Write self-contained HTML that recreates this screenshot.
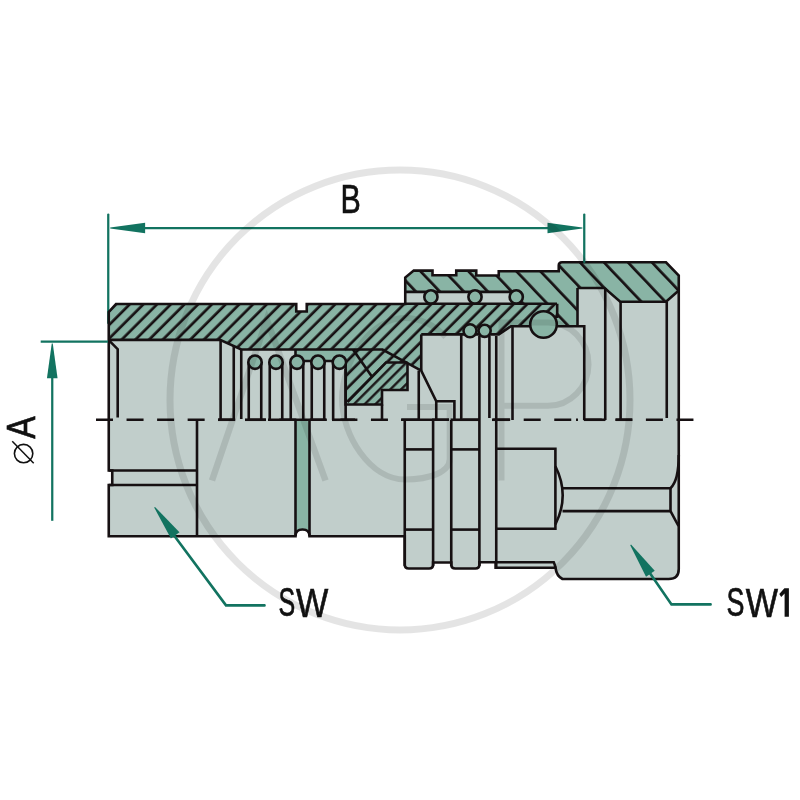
<!DOCTYPE html>
<html><head><meta charset="utf-8"><style>
html,body{margin:0;padding:0;background:#fff;width:800px;height:800px;overflow:hidden}
svg{display:block}
text{font-family:"Liberation Sans", sans-serif}
</style></head><body>
<svg width="800" height="800" viewBox="0 0 800 800">
<defs>
 <pattern id="hb" patternUnits="userSpaceOnUse" width="9.69" height="20" patternTransform="rotate(45)">
   <rect width="9.69" height="20" fill="#89b4a5"/>
   <rect x="5.15" y="0" width="2.7" height="20" fill="#161012"/>
 </pattern>
 <pattern id="hs" patternUnits="userSpaceOnUse" width="17.4" height="20" patternTransform="rotate(-43.5)">
   <rect width="17.4" height="20" fill="#89b4a5"/>
   <rect x="12.55" y="0" width="2.7" height="20" fill="#161012"/>
 </pattern>
 <pattern id="hseal" patternUnits="userSpaceOnUse" width="7.6" height="20" patternTransform="rotate(45)">
   <rect width="7.6" height="20" fill="#89b4a5"/>
   <rect x="3" y="0" width="2.3" height="20" fill="#161012"/>
 </pattern>
</defs>

<rect width="800" height="800" fill="#fff"/>
<line x1="108.25" y1="214.5" x2="108.25" y2="323" stroke="#127360" stroke-width="2.25" stroke-linecap="round"/>
<path d="M116,304 L296.25,304 L296.25,311.5 L306.75,311.5 L306.75,304 L405.25,304 L405.25,277.5 L413.75,270.6 L432.5,270.6 L432.5,275.25 L456.25,275.25 L456.25,270.6 L476.25,270.6 L476.25,275.5 L498.75,275.5 L498.75,271.25 L558.75,271.25 L558.75,265.5 Q558.75,262.3 562,262.3 L666,262.3 L678.75,275.5 L678.75,569 Q678.75,579 668.75,579 L562.5,579 Q556.5,576 555.5,567.75 L495.6,567.75 L495.6,562.3 L479.4,562.3 L479.4,564.5 Q479.4,568.5 475.4,568.5 L455.25,568.5 Q451.25,568.5 451.25,564.5 L451.25,562.5 L433.1,562.5 L433.1,564.5 Q433.1,568.5 429.1,568.5 L408.75,568.5 Q404.75,568.5 404.75,564.5 L404.75,536.25 L309.5,536.25 Q309.5,529.5 302.5,529.5 Q295.5,529.5 295.5,536.25 L108.75,536.25 L108.75,485 L112.25,485 L112.25,470.5 L108.75,470.5 L108.75,312 Z" fill="#c1cecb"/>
<path d="M405.25,304 L405.25,277.5 L413.75,270.6 L432.5,270.6 L432.5,275.25 L456.25,275.25 L456.25,270.6 L476.25,270.6 L476.25,275.5 L498.75,275.5 L498.75,271.25 L558.75,271.25 L558.75,265.5 Q558.75,262.3 562,262.3 L666,262.3 L678.75,275.5 L678.75,290.5 L666,301.75 L620.25,301.75 L604.5,288 L577.5,288 L577.5,326.25 L557,326.25 L557,304 Z" fill="url(#hs)"/>
<path d="M116,304 L296.25,304 L296.25,311.5 L306.75,311.5 L306.75,304 L557,304 L557,326.25 L511,326.25 L498.75,334.4 L421.25,334.4 L421.25,370.6 L382.5,349.5 L241.25,349.5 L220,339.9 L108.75,339.9 L108.75,312 Z" fill="url(#hb)"/>
<rect x="405.25" y="291.9" width="111" height="12" fill="#c1cecb"/>
<path d="M295.5,349.5 L347.5,349.5 L347.5,362 L295.5,362 Z" fill="#89b4a5"/>
<path d="M345.6,349.5 L382.5,349.5 L407.5,362.8 L386,362.5 L347.5,402 L345.6,402 Z" fill="url(#hb)"/>
<path d="M386,362.5 L407.5,362.5 L407.5,390 L382,390 L382,404.5 L345.6,404.5 L345.6,402 L347.5,402 Z" fill="url(#hseal)"/>
<path d="M295.5,420 L309.5,420 L309.5,536.25 Q309.5,529.5 302.5,529.5 Q295.5,529.5 295.5,536.25 Z" fill="#89b4a5"/>
<g fill="none" stroke="#161012" stroke-width="2.6" stroke-linejoin="miter" stroke-linecap="butt"><path d="M116,304 L296.25,304 L296.25,311.5 L306.75,311.5 L306.75,304 L405.25,304 L405.25,277.5 L413.75,270.6 L432.5,270.6 L432.5,275.25 L456.25,275.25 L456.25,270.6 L476.25,270.6 L476.25,275.5 L498.75,275.5 L498.75,271.25 L558.75,271.25 L558.75,265.5 Q558.75,262.3 562,262.3 L666,262.3 L678.75,275.5 L678.75,569 Q678.75,579 668.75,579 L562.5,579 Q556.5,576 555.5,567.75 L495.6,567.75 L495.6,562.3 L479.4,562.3 L479.4,564.5 Q479.4,568.5 475.4,568.5 L455.25,568.5 Q451.25,568.5 451.25,564.5 L451.25,562.5 L433.1,562.5 L433.1,564.5 Q433.1,568.5 429.1,568.5 L408.75,568.5 Q404.75,568.5 404.75,564.5 L404.75,536.25 L309.5,536.25 Q309.5,529.5 302.5,529.5 Q295.5,529.5 295.5,536.25 L108.75,536.25 L108.75,485 L112.25,485 L112.25,470.5 L108.75,470.5 L108.75,312 Z"/><path d="M108.75,339.9 L220,339.9 L241.25,349.5 L382.5,349.5 L421.25,370.6 L436.25,401.25 L454.4,401.25 L454.4,420"/><path d="M108.75,340.2 L117.7,349.2 L117.7,417.5"/><line x1="220.6" y1="339.9" x2="220.6" y2="420"/><line x1="233.75" y1="345.9" x2="233.75" y2="420"/><line x1="241.25" y1="349.5" x2="241.25" y2="419"/><path d="M248.75,420 L248.75,362 M261.25,362 L261.25,420"/><path d="M269.75,420 L269.75,362 M282.25,362 L282.25,420"/><path d="M290.75,420 L290.75,362 M303.25,362 L303.25,420"/><path d="M311.75,420 L311.75,362 M324.25,362 L324.25,420"/><path d="M333.15,420 L333.15,362 M345.65,362 L345.65,420"/><line x1="295.5" y1="349.5" x2="295.5" y2="355"/><path d="M297,361 L339.4,361"/><circle cx="255" cy="362.2" r="6.7" fill="#89b4a5"/><circle cx="276" cy="362.2" r="6.7" fill="#89b4a5"/><circle cx="297" cy="362.2" r="6.7" fill="#89b4a5"/><circle cx="318" cy="362.2" r="6.7" fill="#89b4a5"/><circle cx="339.4" cy="362.2" r="6.7" fill="#89b4a5"/><path d="M345.65,369 L345.65,404.5 L382,404.5 L382,390 L407.5,390 L407.5,362.8"/><path d="M347.5,402 L386,362.5 L407.5,362.5"/><line x1="382" y1="404.5" x2="382" y2="420"/><path d="M353,349.5 L372,376.7"/><line x1="421.25" y1="334.4" x2="421.25" y2="370.6"/><line x1="418.75" y1="370.6" x2="418.75" y2="420"/><line x1="436.25" y1="401.25" x2="436.25" y2="420"/><path d="M421.25,334.4 L498.75,334.4 L511,326.25 L584.25,326.25 L584.25,420"/><line x1="461.25" y1="334.4" x2="461.25" y2="420"/><line x1="479.4" y1="336" x2="479.4" y2="420"/><line x1="489.4" y1="336" x2="489.4" y2="418"/><line x1="496.25" y1="336" x2="496.25" y2="568"/><line x1="512.5" y1="326.25" x2="512.5" y2="420"/><line x1="405.25" y1="291.9" x2="516" y2="291.9"/><line x1="405.25" y1="303.75" x2="557" y2="303.75"/><line x1="557.2" y1="303.75" x2="557.2" y2="318"/><circle cx="430.9" cy="296.9" r="6.6" fill="#89b4a5"/><circle cx="475" cy="296.9" r="6.6" fill="#89b4a5"/><circle cx="516.25" cy="296.9" r="6.6" fill="#89b4a5"/><circle cx="470" cy="330.8" r="6.5" fill="#89b4a5"/><circle cx="484.6" cy="330.8" r="6.1" fill="#89b4a5"/><circle cx="543.5" cy="324.5" r="13.3" fill="#89b4a5"/><line x1="577.5" y1="288" x2="577.5" y2="326.25"/><path d="M577.5,288 L604.5,288 L620.25,301.75 L666,301.75 L678.75,290.5"/><line x1="605.25" y1="288" x2="605.25" y2="420"/><line x1="620.6" y1="301.75" x2="620.6" y2="420"/><line x1="666.75" y1="301.75" x2="666.75" y2="418"/><line x1="108.75" y1="470.5" x2="197" y2="470.5"/><line x1="108.75" y1="485" x2="197" y2="485"/><line x1="197" y1="420" x2="197" y2="536.25"/><line x1="295.5" y1="420" x2="295.5" y2="536"/><line x1="309.5" y1="420" x2="309.5" y2="536"/><line x1="404.75" y1="420" x2="404.75" y2="566"/><line x1="433.1" y1="420" x2="433.1" y2="566"/><line x1="451.25" y1="420" x2="451.25" y2="566"/><line x1="479.4" y1="420" x2="479.4" y2="566"/><line x1="404.75" y1="449.4" x2="433.1" y2="449.4"/><line x1="451.25" y1="449.4" x2="479.4" y2="449.4"/><line x1="404.75" y1="529.6" x2="433.1" y2="529.6"/><line x1="451.25" y1="529.6" x2="479.4" y2="529.6"/><path d="M496.25,448.75 L555.4,448.75 L555.4,528.75 L496.25,528.75"/><path d="M555.4,466.25 Q570,495.3 555.4,524.4"/><path d="M562.5,488.2 L670.5,488.2 L670.5,511.1 L562.5,511.1"/><path d="M670.5,488.2 C675.5,483.5 678.75,475 678.75,455 M670.5,511.1 L678.5,526"/><path d="M495.6,562.3 L553.75,562.3 Q555,565 555.5,567.75"/></g>
<g stroke="#161012" stroke-width="2.6"><line x1="96" y1="419.75" x2="694" y2="419.75" stroke-dasharray="17 13.55"/><line x1="218" y1="419.75" x2="235" y2="419.75"/><line x1="245" y1="419.75" x2="266" y2="419.75"/><line x1="268" y1="419.75" x2="326" y2="419.75"/><line x1="332" y1="419.75" x2="355" y2="419.75"/><line x1="401" y1="419.75" x2="449" y2="419.75"/><line x1="450.6" y1="419.75" x2="479" y2="419.75"/><line x1="492" y1="419.75" x2="510" y2="419.75"/><line x1="583.75" y1="419.75" x2="605.5" y2="419.75"/><line x1="615.75" y1="419.75" x2="632.25" y2="419.75"/><line x1="576" y1="419.75" x2="578" y2="419.75"/></g>
<line x1="584.25" y1="214.5" x2="584.25" y2="262" stroke="#127360" stroke-width="2.25" stroke-linecap="round"/><line x1="140" y1="228" x2="555" y2="228" stroke="#127360" stroke-width="2.25"/><path d="M110.20,228.50 L145.10,233.30 L145.10,222.70 L110.20,227.50 Z" fill="#127360"/><path d="M582.40,227.50 L547.50,222.70 L547.50,233.30 L582.40,228.50 Z" fill="#127360"/><line x1="40.7" y1="341.5" x2="108" y2="341.5" stroke="#127360" stroke-width="2.25"/><line x1="52.25" y1="370" x2="52.25" y2="520.8" stroke="#127360" stroke-width="2.25"/><path d="M51.75,343.40 L46.95,378.30 L57.55,378.30 L52.75,343.40 Z" fill="#127360"/><path d="M170,530 L226,605.4 L264.5,605.4" fill="none" stroke="#127360" stroke-width="2.6" stroke-linecap="round"/><path d="M154.20,507.53 L170.91,538.54 L179.47,532.29 L155.01,506.94 Z" fill="#127360"/><path d="M645,566 L671.5,604.4 L710.6,604.4" fill="none" stroke="#127360" stroke-width="2.6" stroke-linecap="round"/><path d="M630.23,545.18 L646.03,576.66 L654.76,570.66 L631.05,544.61 Z" fill="#127360"/>
<g font-family="Liberation Sans, sans-serif" fill="#111" stroke="#111" stroke-width="0.7" style="will-change:transform;opacity:0.999"><text transform="translate(340.61,213.40) scale(0.7368,1)" font-size="41.28" >B</text><text transform="translate(278.45,616.39) scale(0.6234,1)" font-size="40.24" >S</text><text transform="translate(296.08,616.75) scale(0.8272,1)" font-size="41.35" >W</text><text transform="translate(726.51,616.34) scale(0.6748,1)" font-size="39.89" >S</text><text transform="translate(745.63,616.70) scale(0.8333,1)" font-size="40.99" >W</text><path d="M784.4,588.25 L788.9,588.25 L788.9,616.75 L784.6,616.75 L784.6,593.4 L781.2,596.9 L779.3,594.1 Z" stroke="none"/><g transform="translate(34.6,0) rotate(-90)"><text transform="translate(-438.77,0.00) scale(0.8132,1)" font-size="41.42" >A</text></g><circle cx="23.6" cy="453.6" r="9.2" fill="none" stroke="#111" stroke-width="1.6"/><line x1="12.25" y1="441.3" x2="33.7" y2="463.2" stroke="#111" stroke-width="1.5"/></g>
<g stroke="#000" stroke-opacity="0.105"><circle cx="400" cy="400" r="230" fill="none" stroke-width="7"/><path d="M212,480.5 L266.8,319.5 L325.5,480.5" fill="none" stroke-width="6.5"/><path d="M445.6,337 C435,325 420,318 405,318 C370.2,318 342,362 342,398.75 C342,435 370,479.5 405,479.5 C430,479.5 449.7,472 449.7,459 L449.7,407 L407,407" fill="none" stroke-width="6"/><path d="M501.5,480.5 L501.5,322.5 L548,322.5 A40.5,41.6 0 0 1 548,405.75 L501.5,405.75" fill="none" stroke-width="6"/></g></svg>
</body></html>
